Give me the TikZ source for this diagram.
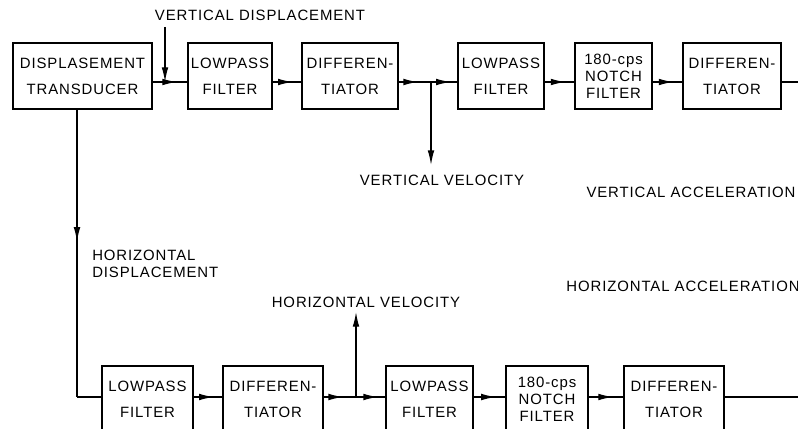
\documentclass[tikz,border=0pt]{standalone}
\usepackage{fontspec}
\setmainfont{Liberation Sans}[LetterSpace=6]
\usetikzlibrary{arrows.meta, decorations.markings}

\begin{document}
\begin{tikzpicture}[x=0.75pt, y=-0.75pt,
  block/.style={rectangle, draw, line width=1pt, align=center, inner sep=1pt,
                minimum height=49.5pt, font=\fontsize{11.2pt}{19.5pt}\selectfont},
  notch/.style={block, font=\fontsize{11.2pt}{12.75pt}\selectfont},
  lbl/.style={inner sep=0pt, align=left, font=\fontsize{11.2pt}{12.75pt}\selectfont},
  link/.style={line width=1pt},
  tip/.style={link, -{Latex[length=11pt, width=5pt]}},
  midarrow/.style={link, postaction={decorate},
    decoration={markings, mark=at position #1 with {\arrow{Latex[length=11pt, width=5pt]}}}},
  midarrow/.default=0.7
]
\clip (0,0) rectangle (798,428);

\node[block, minimum width=104.25pt] (tr) at (82.5,76) {DISPLASEMENT\\TRANSDUCER};
\node[block, minimum width=63pt] (lp1) at (230,76) {LOWPASS\\FILTER};
\node[block, minimum width=72pt] (df1) at (350,76) {DIFFEREN-\\TIATOR};
\node[block, minimum width=64.5pt] (lp2) at (501,76) {LOWPASS\\FILTER};
\node[notch, minimum width=57.75pt] (nf1) at (613.5,76) {180-cps\\NOTCH\\FILTER};
\node[block, minimum width=73.5pt] (df2) at (732,76) {DIFFEREN-\\TIATOR};

\node[block, minimum width=68.25pt] (lp3) at (147.5,399) {LOWPASS\\FILTER};
\node[block, minimum width=75pt] (df3) at (273,399) {DIFFEREN-\\TIATOR};
\node[block, minimum width=65.25pt] (lp4) at (429.5,399) {LOWPASS\\FILTER};
\node[notch, minimum width=61.5pt] (nf2) at (547,399) {180-cps\\NOTCH\\FILTER};
\node[block, minimum width=75pt] (df4) at (674,399) {DIFFEREN-\\TIATOR};

\node[lbl] (vdisp) at (260,15) {VERTICAL DISPLACEMENT};
\node[lbl] (vvel) at (442,180) {VERTICAL VELOCITY};
\node[lbl] (vacc) at (691,192) {VERTICAL ACCELERATION};
\node[lbl, anchor=west] (hdisp) at (92,263.5) {HORIZONTAL\\DISPLACEMENT};
\node[lbl] (hvel) at (366,302) {HORIZONTAL VELOCITY};
\node[lbl] (hacc) at (683,286) {HORIZONTAL ACCELERATION};

\coordinate (vdIn) at (165,27);
\coordinate (vv) at (431,82);
\coordinate (vvOut) at (431,165);
\coordinate (vaEnd) at (798,82);
\coordinate (hdCorner) at (77,397);
\coordinate (hv) at (356,397);
\coordinate (hvOut) at (356,312);
\coordinate (haEnd) at (798,397);

\draw[midarrow] (tr.east |- vv) -- (lp1.west |- vv);
\draw[midarrow] (lp1.east |- vv) -- (df1.west |- vv);
\draw[midarrow=0.6] (df1.east |- vv) -- (vv);
\draw[midarrow=0.75] (vv) -- (lp2.west |- vv);
\draw[midarrow] (lp2.east |- vv) -- (nf1.west |- vv);
\draw[midarrow] (nf1.east |- vv) -- (df2.west |- vv);
\draw[link] (df2.east |- vv) -- (vaEnd);
\draw[tip] (vv) -- (vvOut);
\draw[tip] (vdIn) -- (vdIn |- vv);

\draw[midarrow=0.46] (tr.south -| hdCorner) -- (hdCorner);
\draw[link] (hdCorner) -- (lp3.west |- hdCorner);
\draw[midarrow] (lp3.east |- hv) -- (df3.west |- hv);
\draw[midarrow=0.6] (df3.east |- hv) -- (hv);
\draw[midarrow=0.75] (hv) -- (lp4.west |- hv);
\draw[midarrow] (lp4.east |- hv) -- (nf2.west |- hv);
\draw[midarrow] (nf2.east |- hv) -- (df4.west |- hv);
\draw[link] (df4.east |- hv) -- (haEnd);
\draw[tip] (hv) -- (hvOut);
\end{tikzpicture}
\end{document}
